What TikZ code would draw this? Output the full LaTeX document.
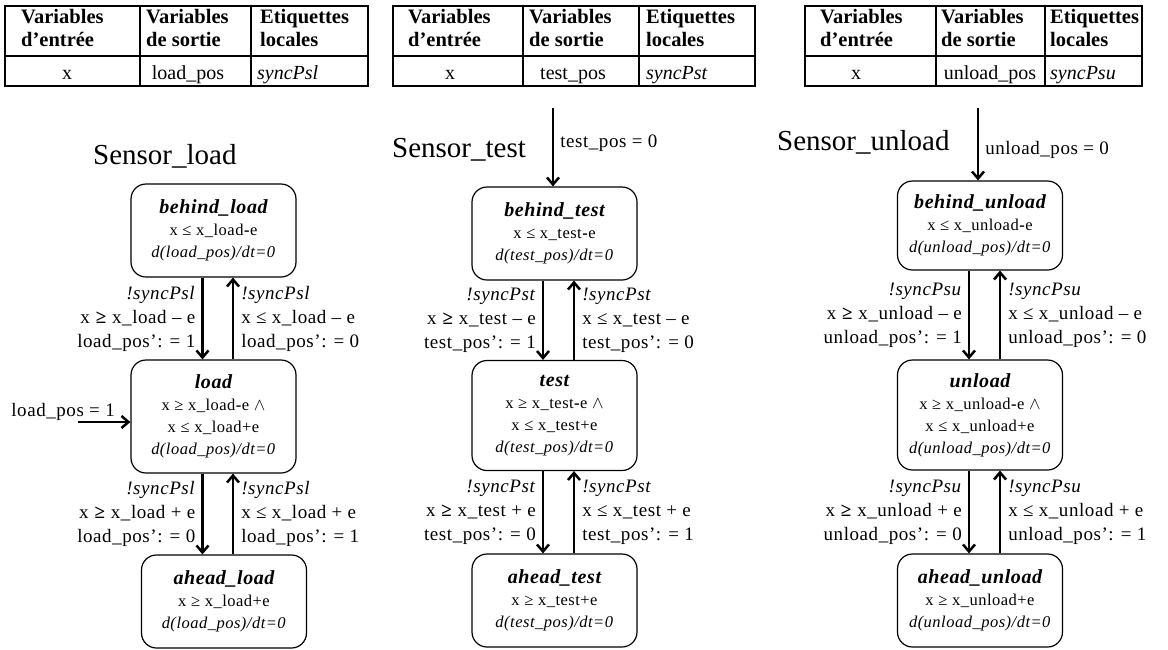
\documentclass[tikz,border=0pt]{standalone}
\usepackage{fontspec}
\setmainfont{Liberation Serif}
\newfontfamily\spaced[LetterSpace=3]{Liberation Serif}
\usetikzlibrary{arrows.meta, positioning}
\newcommand{\stname}[1]{{\fontsize{20}{22}\selectfont\bfseries\itshape #1}}

\begin{document}
\begin{tikzpicture}[
        x=1pt, y=-1pt,
        tab/.style={line width=1.3pt},
        hd/.style={anchor=north west, align=left, inner sep=0pt, font=\fontsize{20.5}{23}\selectfont\bfseries},
        cell/.style={anchor=base, inner sep=0pt, font=\fontsize{20}{23}\selectfont},
        title/.style={anchor=base west, inner sep=0pt, font=\fontsize{29}{31}\selectfont},
        state/.style={draw, line width=1.2pt, rounded corners=15pt, minimum width=165pt, minimum height=93pt, inner sep=0pt, align=center, font=\spaced\fontsize{16.5}{22}\selectfont},
        trans/.style={line width=2.5pt, -{Straight Barb[length=7pt, width=12pt]}},
        lbl/.style={inner sep=0pt, font=\spaced\fontsize{19}{24}\selectfont},
        lblleft/.style={lbl, left=6pt, align=right},
        lblright/.style={lbl, right=7pt, align=left}
    ]
        \useasboundingbox (0,0) rectangle (1168,649);

        % Tableaux des variables
        \draw[tab] (5,6) rectangle (368,86) (5,56) -- (368,56) (140,6) -- (140,86) (251,6) -- (251,86);
        \node[hd] (hd1load) at (21,9) {Variables\\d’entrée};
        \node[hd] (hd2load) at (146,9) {Variables\\de sortie};
        \node[hd] (hd3load) at (260,9) {Etiquettes\\locales};
        \node[cell] (inxload) at (67,79) {x};
        \node[cell] (outload) at (188,79) {load\_pos};
        \node[cell, anchor=base west] (syncload) at (257,79) {\textit{syncPsl}};

        \draw[tab] (393,6) rectangle (755,86) (393,56) -- (755,56) (523,6) -- (523,86) (639,6) -- (639,86);
        \node[hd] (hd1test) at (408,9) {Variables\\d’entrée};
        \node[hd] (hd2test) at (529,9) {Variables\\de sortie};
        \node[hd] (hd3test) at (646,9) {Etiquettes\\locales};
        \node[cell] (inxtest) at (450,79) {x};
        \node[cell] (outtest) at (573,79) {test\_pos};
        \node[cell, anchor=base west] (synctest) at (646,79) {\textit{syncPst}};

        \draw[tab] (805,6) rectangle (1142,86) (805,56) -- (1142,56) (936,6) -- (936,86) (1045,6) -- (1045,86);
        \node[hd] (hd1unload) at (820,9) {Variables\\d’entrée};
        \node[hd] (hd2unload) at (941,9) {Variables\\de sortie};
        \node[hd] (hd3unload) at (1050,9) {Etiquettes\\locales};
        \node[cell] (inxunload) at (856,79) {x};
        \node[cell] (outunload) at (990,79) {unload\_pos};
        \node[cell, anchor=base west] (syncunload) at (1050,79) {\textit{syncPsu}};

        % Sensor_load
        \node[title] (ttlload) at (93,164) {Sensor\_load};
        \node[state] (behindload) at (213.5,230.5) {\stname{behind\_load}\\ x ≤ x\_load\textbf{-}e\\ \textit{d(load\_pos)/dt=0}};
        \node[state, minimum height=113pt] (load) at (213.5,416.5) {\stname{load}\\ x ≥ x\_load\textbf{-}e $\wedge$\\ x ≤ x\_load+e\\ \textit{d(load\_pos)/dt=0}};
        \node[state] (aheadload) at (224,601.5) {\stname{ahead\_load}\\ x ≥ x\_load+e\\ \textit{d(load\_pos)/dt=0}};

        \coordinate (initload) at (78,422);
        \draw[trans] (initload) -- (initload -| load.west);
        \node[lbl, anchor=base east] (initloadlbl) at (115,416) {load\_pos = 1};

        \draw[trans] ([xshift=-11pt]behindload.south) -- ([xshift=-11pt]behindload.south |- load.north)
            node[midway, lblleft] {\textit{!syncPsl}\\ x \textbf{≥} x\_load – e\\ load\_pos’: = 1};
        \draw[trans] ([xshift=19.5pt]load.north) -- ([xshift=19.5pt]load.north |- behindload.south)
            node[midway, lblright] {\textit{!syncPsl}\\ x ≤ x\_load – e\\ load\_pos’: = 0};
        \draw[trans] ([xshift=-11pt]load.south) -- ([xshift=-11pt]load.south |- aheadload.north)
            node[midway, lblleft] {\textit{!syncPsl}\\ x \textbf{≥} x\_load + e\\ load\_pos’: = 0};
        \draw[trans] ([xshift=19.5pt]load.south |- aheadload.north) -- ([xshift=19.5pt]load.south)
            node[midway, lblright] {\textit{!syncPsl}\\ x ≤ x\_load + e\\ load\_pos’: = 1};

        % Sensor_test
        \node[title] (ttltest) at (392,157) {Sensor\_test};
        \node[state] (behindtest) at (554.5,233.5) {\stname{behind\_test}\\ x ≤ x\_test\textbf{-}e\\ \textit{d(test\_pos)/dt=0}};
        \node[state, minimum height=110pt] (test) at (554.5,415.5) {\stname{test}\\ x ≥ x\_test\textbf{-}e $\wedge$\\ x ≤ x\_test+e\\ \textit{d(test\_pos)/dt=0}};
        \node[state] (aheadtest) at (554.5,600.5) {\stname{ahead\_test}\\ x ≥ x\_test+e\\ \textit{d(test\_pos)/dt=0}};

        \coordinate (inittest) at (553,108);
        \draw[trans] (inittest) -- (inittest |- behindtest.north)
            node[pos=0.45, lblright, right=6pt] {test\_pos = 0};

        \draw[trans] ([xshift=-11.5pt]behindtest.south) -- ([xshift=-11.5pt]behindtest.south |- test.north)
            node[midway, lblleft] {\textit{!syncPst}\\ x \textbf{≥} x\_test – e\\ test\_pos’: = 1};
        \draw[trans] ([xshift=19.5pt]test.north) -- ([xshift=19.5pt]test.north |- behindtest.south)
            node[midway, lblright] {\textit{!syncPst}\\ x ≤ x\_test – e\\ test\_pos’: = 0};
        \draw[trans] ([xshift=-11.5pt]test.south) -- ([xshift=-11.5pt]test.south |- aheadtest.north)
            node[midway, lblleft] {\textit{!syncPst}\\ x \textbf{≥} x\_test + e\\ test\_pos’: = 0};
        \draw[trans] ([xshift=19.5pt]test.south |- aheadtest.north) -- ([xshift=19.5pt]test.south)
            node[midway, lblright] {\textit{!syncPst}\\ x ≤ x\_test + e\\ test\_pos’: = 1};

        % Sensor_unload
        \node[title] (ttlunload) at (777,150) {Sensor\_unload};
        \node[state, minimum height=89pt] (behindunload) at (980,225.5) {\stname{behind\_unload}\\ x ≤ x\_unload\textbf{-}e\\ \textit{d(unload\_pos)/dt=0}};
        \node[state, minimum height=110pt] (unload) at (980,415) {\stname{unload}\\ x ≥ x\_unload\textbf{-}e $\wedge$\\ x ≤ x\_unload+e\\ \textit{d(unload\_pos)/dt=0}};
        \node[state] (aheadunload) at (980,600.5) {\stname{ahead\_unload}\\ x ≥ x\_unload+e\\ \textit{d(unload\_pos)/dt=0}};

        \coordinate (initunload) at (978,108);
        \draw[trans] (initunload) -- (initunload |- behindunload.north)
            node[pos=0.58, lblright, right=6pt] {unload\_pos = 0};

        \draw[trans] ([xshift=-11pt]behindunload.south) -- ([xshift=-11pt]behindunload.south |- unload.north)
            node[midway, lblleft] {\textit{!syncPsu}\\ x \textbf{≥} x\_unload – e\\ unload\_pos’: = 1};
        \draw[trans] ([xshift=20pt]unload.north) -- ([xshift=20pt]unload.north |- behindunload.south)
            node[midway, lblright] {\textit{!syncPsu}\\ x ≤ x\_unload – e\\ unload\_pos’: = 0};
        \draw[trans] ([xshift=-11pt]unload.south) -- ([xshift=-11pt]unload.south |- aheadunload.north)
            node[midway, lblleft] {\textit{!syncPsu}\\ x \textbf{≥} x\_unload + e\\ unload\_pos’: = 0};
        \draw[trans] ([xshift=20pt]unload.south |- aheadunload.north) -- ([xshift=20pt]unload.south)
            node[midway, lblright] {\textit{!syncPsu}\\ x ≤ x\_unload + e\\ unload\_pos’: = 1};
    \end{tikzpicture}
\end{document}
